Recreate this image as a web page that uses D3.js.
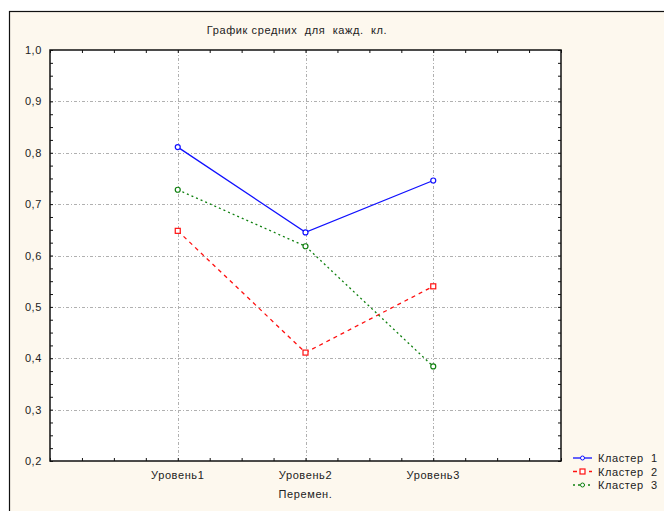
<!DOCTYPE html>
<html><head><meta charset="utf-8">
<script src="https://cdn.jsdelivr.net/npm/d3@7"></script>
<style>body{margin:0;background:#fff}svg{display:block}text{font-family:"Liberation Sans",Arial,sans-serif;font-size:11px;fill:#222;letter-spacing:0.6px}</style>
</head><body><svg id="c" width="664" height="511"></svg>
<script>
const categories = ["Уровень1","Уровень2","Уровень3"];
const seriesNames = ["Кластер  1","Кластер  2","Кластер  3"];
const cluster1 = [0.811, 0.645, 0.746];
const cluster2 = [0.648, 0.411, 0.540];
const cluster3 = [0.728, 0.618, 0.384];
const yTicks = [0.2,0.3,0.4,0.5,0.6,0.7,0.8,0.9,1.0];
const title = "График средних  для  кажд.  кл.";
const xTitle = "Перемен.";

const svg = d3.select("#c");
svg.append("rect").attr("width",664).attr("height",511).attr("fill","#fff");
svg.append("rect").attr("x",9.5).attr("y",11.5).attr("width",700).attr("height",600)
  .attr("fill","#fdf8ee").attr("stroke","#111").attr("stroke-width",1.2);

const L=50,R=561,T=50,B=461;
const x = d3.scaleLinear().domain([0,4]).range([L,R]);
const y = d3.scaleLinear().domain([0.2,1.0]).range([B,T]);
svg.append("rect").attr("x",L).attr("y",T).attr("width",R-L).attr("height",B-T).attr("fill","#fff");

// grid
const g = svg.append("g");
g.selectAll(".gy").data(yTicks.filter(v=>v>0.2&&v<1.0)).join("line")
  .attr("x1",L).attr("x2",R).attr("y1",d=>Math.round(y(d))+0.5).attr("y2",d=>Math.round(y(d))+0.5)
  .attr("stroke","#b0b0b0").attr("stroke-dasharray","3,2,1,2").attr("stroke-width",1);
g.selectAll(".gx").data(categories).join("line")
  .attr("x1",(d,i)=>Math.round(x(i+1))+0.5).attr("x2",(d,i)=>Math.round(x(i+1))+0.5).attr("y1",T).attr("y2",B)
  .attr("stroke","#b0b0b0").attr("stroke-dasharray","3,2,1,2").attr("stroke-width",1);

// axes with inward ticks
const minorY = d3.range(0,33).map(i=>0.2+i*0.025);
const minorX = d3.range(0,17).map(i=>i*0.25);
const ax = svg.append("g");
ax.append("g").attr("transform",`translate(${L},0)`).call(d3.axisRight(y).tickValues(minorY).tickSize(3).tickFormat(""));
ax.append("g").attr("transform",`translate(${R},0)`).call(d3.axisLeft(y).tickValues(minorY).tickSize(3).tickFormat(""));
ax.append("g").attr("transform",`translate(0,${B})`).call(d3.axisTop(x).tickValues(minorX).tickSize(3).tickFormat(""));
ax.append("g").attr("transform",`translate(0,${T})`).call(d3.axisBottom(x).tickValues(minorX).tickSize(3).tickFormat(""));
ax.selectAll(".domain").remove();
ax.selectAll("line").attr("stroke","#111");
svg.append("rect").attr("x",L).attr("y",T).attr("width",R-L).attr("height",B-T)
  .attr("fill","none").attr("stroke","#111").attr("stroke-width",1.5);

// labels
svg.selectAll(".yl").data(yTicks).join("text")
  .attr("x",42).attr("y",d=>y(d)+4).attr("text-anchor","end").text(d=>d.toFixed(1).replace(".",","));
svg.selectAll(".xl").data(categories).join("text")
  .attr("x",(d,i)=>x(i+1)).attr("y",479).attr("text-anchor","middle").text(d=>d);
svg.append("text").attr("x",x(2)).attr("y",498).attr("text-anchor","middle").text(xTitle);
svg.append("text").attr("x",297).attr("y",34).attr("text-anchor","middle").style("white-space","pre").text(title);

// series
const series = [
  {name:seriesNames[0], vals:cluster1, color:"#1010ff", dash:null, marker:"circle"},
  {name:seriesNames[1], vals:cluster2, color:"#ff1010", dash:"4,4", marker:"square"},
  {name:seriesNames[2], vals:cluster3, color:"#108010", dash:"2,3", marker:"circle"}
];
const line = d3.line().x((d,i)=>x(i+1)).y(d=>y(d));
series.forEach(s=>{
  svg.append("path").attr("d",line(s.vals)).attr("fill","none").attr("stroke",s.color)
    .attr("stroke-width",1.3).attr("stroke-dasharray",s.dash);
  if(s.marker==="circle"){
    svg.selectAll(null).data(s.vals).join("circle").attr("cx",(d,i)=>x(i+1)).attr("cy",d=>y(d)).attr("r",2.5)
      .attr("fill","#fff").attr("stroke",s.color).attr("stroke-width",1.2);
  } else {
    svg.selectAll(null).data(s.vals).join("rect").attr("x",(d,i)=>x(i+1)-2.5).attr("y",d=>y(d)-2.5)
      .attr("width",5).attr("height",5).attr("fill","#fff").attr("stroke",s.color).attr("stroke-width",1.2);
  }
});

// legend
const lg = svg.append("g");
series.forEach((s,i)=>{
  const yy = 458 + i*13.5;
  lg.append("line").attr("x1",573).attr("x2",592).attr("y1",yy).attr("y2",yy)
    .attr("stroke",s.color).attr("stroke-width",1.3).attr("stroke-dasharray",s.dash);
  if(s.marker==="circle"){
    lg.append("circle").attr("cx",582.5).attr("cy",yy).attr("r",2).attr("fill","#fff").attr("stroke",s.color);
  } else {
    lg.append("rect").attr("x",580).attr("y",yy-2.5).attr("width",5).attr("height",5).attr("fill","#fff").attr("stroke",s.color).attr("stroke-width",1.2);
  }
  lg.append("text").attr("x",598).attr("y",yy+4).style("white-space","pre").text(s.name);
});
</script></body></html>
